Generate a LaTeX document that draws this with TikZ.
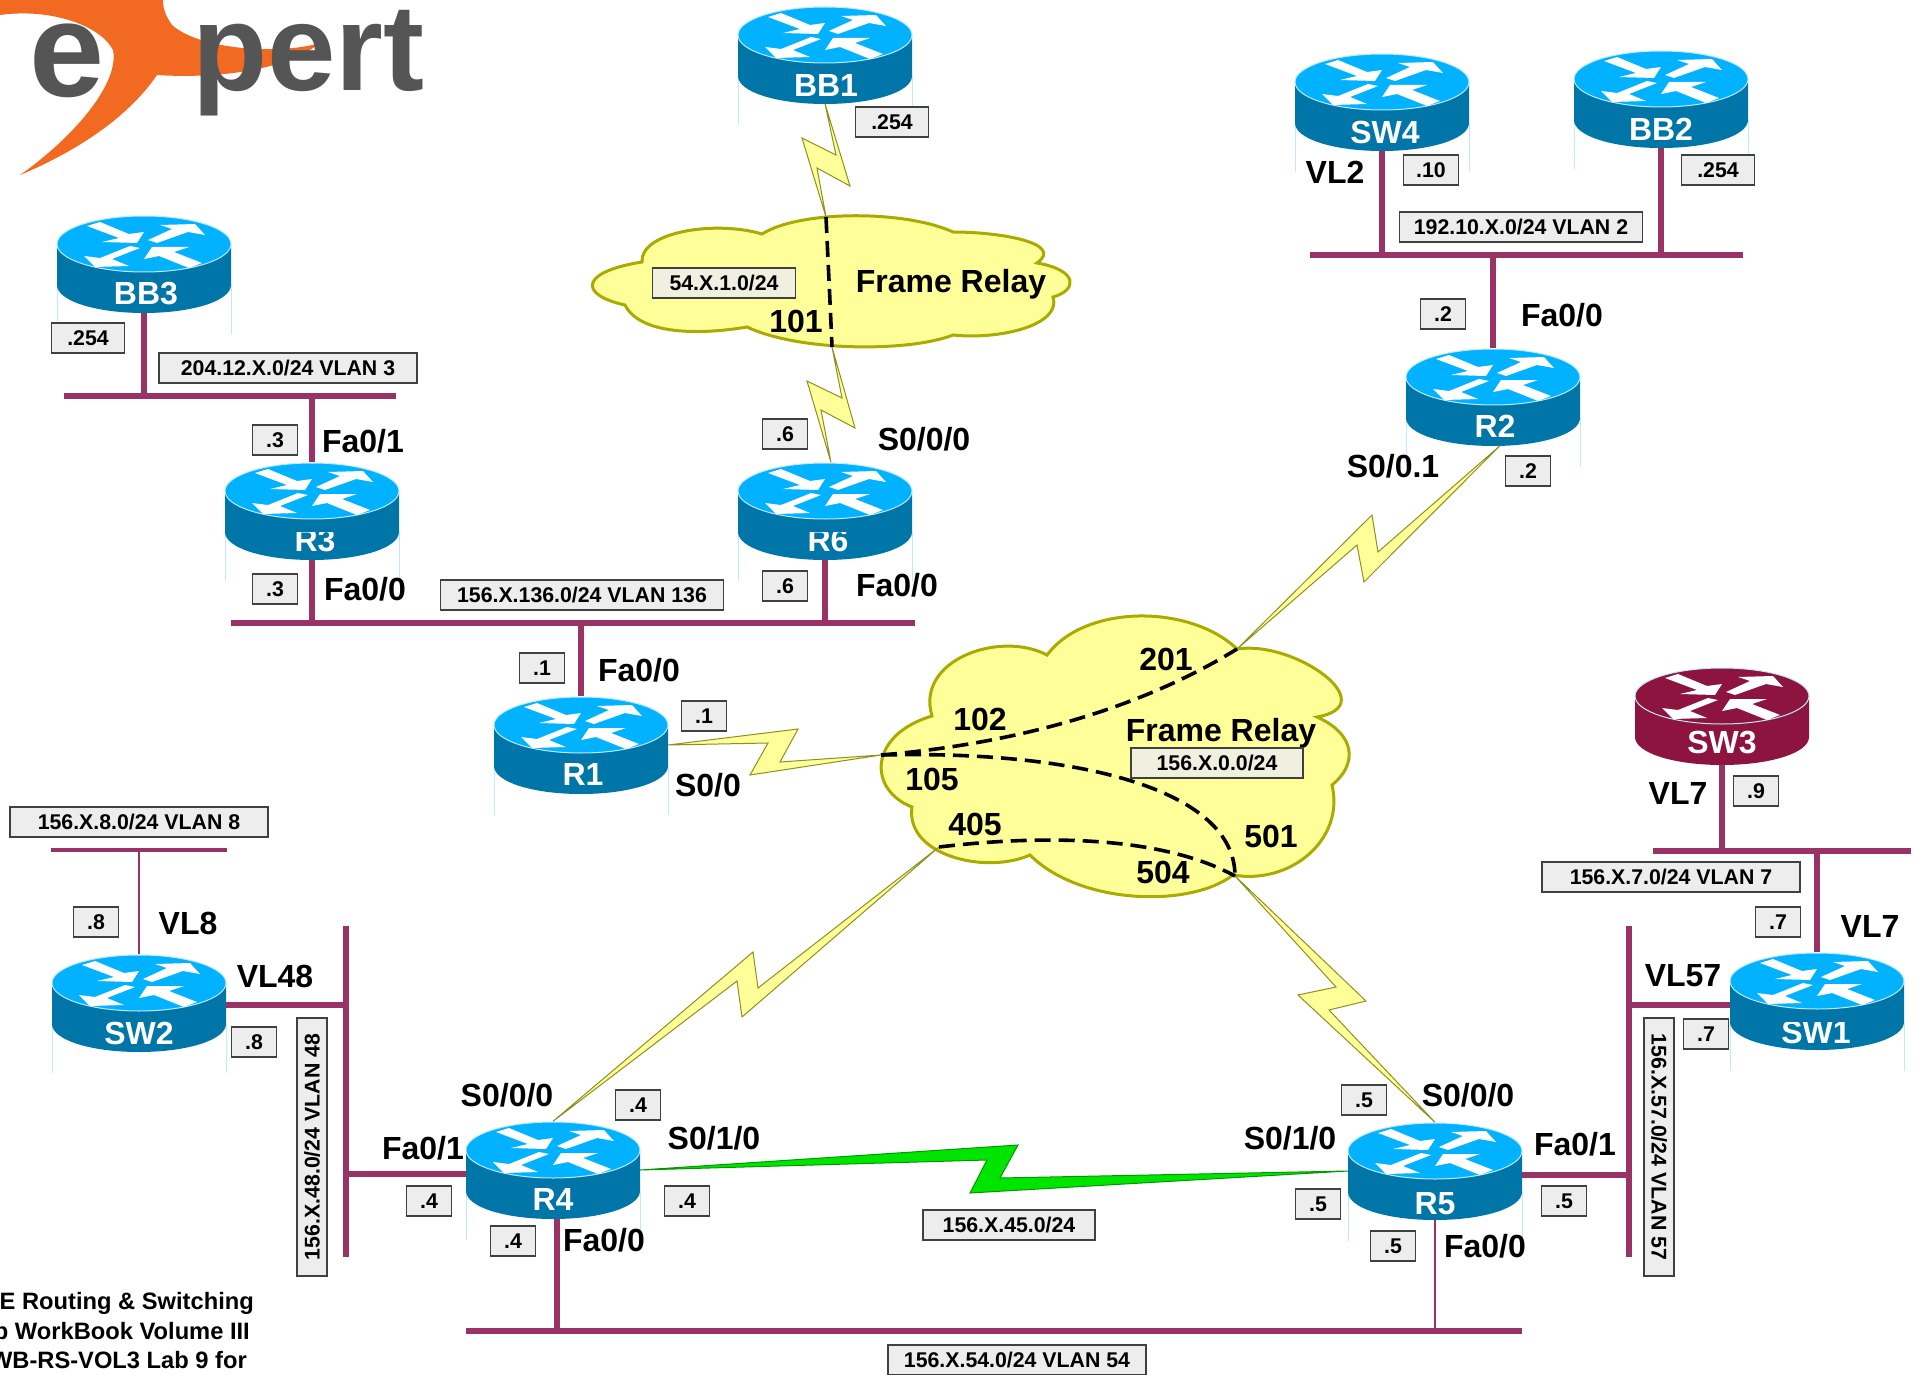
\documentclass[tikz,border=0pt]{standalone}
\usepackage{fontspec}
\setmainfont{Liberation Sans}
\definecolor{topblue}{HTML}{00B2FF}
\definecolor{sideblue}{HTML}{0076A8}
\definecolor{legblue}{HTML}{BFE9FF}
\definecolor{topwine}{HTML}{8E1440}
\definecolor{lanwine}{HTML}{993366}
\definecolor{cloudfill}{HTML}{FFFF99}
\definecolor{cloudline}{HTML}{AAAA00}
\definecolor{boltline}{HTML}{8F8F20}
\definecolor{logoorange}{HTML}{F26A21}
\definecolor{logogrey}{HTML}{555555}

% name, x, y, top colour, side colour, colour of the thin legs
\newcommand{\router}[6]{
  \begin{scope}[shift={(#2,#3)}]
    \draw[#6, line width=1pt] (-87,21) -- (-87,70) (87,21) -- (87,70);
    \fill[#5] (-87,-20) -- (-87,21) .. controls (-87,37) and (-48,49) .. (0,49)
      .. controls (48,49) and (87,37) .. (87,21) -- (87,-20) -- cycle;
    \draw[legblue, line width=1pt, fill=#4] (0,-20) ellipse [x radius=87, y radius=28];
    \fill[white] (-57,-38) -- (-44,-42) -- (-15,-30) -- (0,-32) -- (-7,-21) -- (-42,-22) -- (-25,-26) -- cycle;
    \fill[white] (4,-24) -- (28,-35) -- (16,-39) -- (51,-40) -- (61,-29) -- (44,-32) -- (13,-21) -- cycle;
    \fill[white] (-4,-16) -- (-32,-5) -- (-15,2) -- (-49,3) -- (-60,-8) -- (-44,-6) -- (-14,-18) -- cycle;
    \fill[white] (0,-5) -- (8,-17) -- (45,-17) -- (30,-12) -- (58,-1) -- (45,4) -- (15,-8) -- cycle;
  \end{scope}
  \node[routerbox] (#1) at (#2,#3) {};
}
% the label is cut by the top face on some of the routers
\newcommand{\routercut}[1]{
  \fill[sideblue] ([xshift=-36pt,yshift=-9pt]#1.center) rectangle ([xshift=36pt,yshift=-21pt]#1.center);
}

\begin{document}
\begin{tikzpicture}[x=1pt,y=-1pt,
    routerbox/.style={minimum width=174pt, minimum height=97pt, inner sep=0pt},
    routertext/.style={font=\fontsize{32}{32}\selectfont\bfseries, text=white, inner sep=0pt, text height=23pt, text depth=0pt},
    lan/.style={lanwine, line width=6.5pt},
    thinlan/.style={lanwine, line width=1.2pt},
    cloudy/.style={draw=cloudline, fill=cloudfill, line width=3pt},
    bolt/.style={draw=boltline, fill=cloudfill, line width=1pt, line join=miter},
    greenbolt/.style={draw=black!25!green!80!black, fill=green!90!black, line width=1pt},
    pvc/.style={line width=3.6pt, dash pattern=on 16pt off 8pt},
    portlabel/.style={font=\fontsize{32}{32}\selectfont\bfseries, inner sep=0pt, text height=23pt, text depth=0pt},
    netbox/.style={draw=black!75, line width=1.5pt, fill=black!7, inner sep=0pt,
      minimum width=#1, minimum height=30pt, text height=15pt, text depth=0pt,
      font=\fontsize{21.3}{21.3}\selectfont\bfseries},
    netbox/.default=45pt,
    creambox/.style={netbox=#1, fill=cloudfill!70!black!20!white},
  ]
  \useasboundingbox (0,0) rectangle (1923,1375);

  % logo
  \fill[logoorange] (0,15) .. controls (50,8) and (100,25) .. (113,50) .. controls (120,85) and (70,140) .. (20,175)
    .. controls (80,150) and (130,115) .. (157,75) .. controls (200,78) and (280,75) .. (320,43)
    .. controls (280,55) and (200,50) .. (172,25) .. controls (165,15) and (163,8) .. (163,0) -- (0,0) -- cycle;
  \node[anchor=base west, inner sep=0pt, text=logogrey, font=\fontsize{135}{135}\selectfont\bfseries] (logoe) at (29,97) {e};
  \node[anchor=base west, inner sep=0pt, text=logogrey, font=\fontsize{123}{123}\selectfont\bfseries] (logopert) at (192,91) {pert};

  % clouds
  \draw[cloudy] (762,234) .. controls (800,210) and (905,210) .. (953,232)
    .. controls (1000,232) and (1065,243) .. (1037,263)
    .. controls (1078,270) and (1078,290) .. (1053,297)
    .. controls (1062,325) and (1000,340) .. (953,335)
    .. controls (910,352) and (800,352) .. (747,327)
    .. controls (700,335) and (640,335) .. (625,305)
    .. controls (579,295) and (579,272) .. (642,262)
    .. controls (640,232) and (715,220) .. cycle;
  \draw[cloudy] (1047,655) .. controls (1085,604) and (1190,604) .. (1237,649)
    .. controls (1295,640) and (1385,705) .. (1317,717)
    .. controls (1357,735) and (1357,765) .. (1332,785)
    .. controls (1345,840) and (1290,885) .. (1233,875)
    .. controls (1190,908) and (1080,905) .. (1030,855)
    .. controls (985,875) and (905,855) .. (912,807)
    .. controls (868,790) and (868,735) .. (932,716)
    .. controls (915,660) and (1000,630) .. cycle;

  \coordinate (FRatop) at (826,217);
  \coordinate (FRabot) at (832,347);
  \coordinate (FRbleft) at (881,755);
  \coordinate (FRbup) at (1237,649);
  \coordinate (FRblow) at (939,847);
  \coordinate (FRbdown) at (1235,876);

  % routers
  \router{BB1}{825}{55}{topblue}{sideblue}{legblue}
  \router{SW4}{1382}{102}{topblue}{sideblue}{legblue}
  \router{BB2}{1661}{99}{topblue}{sideblue}{legblue}
  \router{BB3}{144}{264}{topblue}{sideblue}{legblue}
  \router{R2}{1493}{397}{topblue}{sideblue}{legblue}
  \router{R3}{312}{511}{topblue}{sideblue}{legblue}
  \router{R6}{825}{511}{topblue}{sideblue}{legblue}
  \router{R1}{581}{745}{topblue}{sideblue}{legblue}
  \router{SW3}{1722}{716}{topwine}{topwine}{white}
  \router{SW1}{1817}{1001}{topblue}{sideblue}{legblue}
  \router{SW2}{139}{1003}{topblue}{sideblue}{legblue}
  \router{R4}{553}{1170}{topblue}{sideblue}{legblue}
  \router{R5}{1435}{1171}{topblue}{sideblue}{legblue}

  \node[routertext] (BB1text) at (826,85) {BB1};
  \node[routertext] (SW4text) at (1385,132) {SW4};
  \node[routertext] (BB2text) at (1661,129) {BB2};
  \node[routertext] (BB3text) at (146,293) {BB3};
  \node[routertext] (R2text) at (1495,426) {R2};
  \node[routertext] (R3text) at (315,540) {R3};
  \node[routertext] (R6text) at (828,540) {R6};
  \node[routertext] (R1text) at (583,774) {R1};
  \node[routertext] (SW3text) at (1722,742) {SW3};
  \node[routertext] (SW1text) at (1816,1032) {SW1};
  \node[routertext] (SW2text) at (139,1033) {SW2};
  \node[routertext] (R4text) at (553,1199) {R4};
  \node[routertext] (R5text) at (1435,1203) {R5};
  \routercut{R3}
  \routercut{R6}
  \routercut{SW1}

  % lan segments
  \coordinate (V3a) at (64,396);   \coordinate (V3b) at (396,396);
  \coordinate (V136a) at (231,623); \coordinate (V136b) at (915,623);
  \coordinate (V2a) at (1310,255); \coordinate (V2b) at (1743,255);
  \coordinate (V8a) at (51,850);   \coordinate (V8b) at (227,850);
  \coordinate (V48a) at (346,926); \coordinate (V48b) at (346,1257);
  \coordinate (V54a) at (466,1331); \coordinate (V54b) at (1522,1331);
  \coordinate (V57a) at (1629,926); \coordinate (V57b) at (1629,1257);
  \coordinate (V7a) at (1653,851); \coordinate (V7b) at (1911,851);
  \coordinate (SW2tap) at (346,1005);
  \coordinate (R4tap) at (346,1174);
  \coordinate (R5tap) at (1629,1175);
  \coordinate (SW1tap) at (1629,1005);
  \coordinate (R4down) at (557,1219);

  \draw[lan] (V3a) -- (V3b);
  \draw[lan] (BB3.south) -- (BB3.south |- V3a);
  \draw[lan] (R3.north) -- (R3.north |- V3a);
  \draw[lan] (V136a) -- (V136b);
  \draw[lan] (R3.south) -- (R3.south |- V136a);
  \draw[lan] (R6.south) -- (R6.south |- V136a);
  \draw[lan] (R1.north) -- (R1.north |- V136a);
  \draw[lan] (V2a) -- (V2b);
  \draw[lan] (SW4.south) -- (SW4.south |- V2a);
  \draw[lan] (BB2.south) -- (BB2.south |- V2a);
  \draw[lan] (R2.north) -- (R2.north |- V2a);
  \draw[lan, line width=4pt] (V8a) -- (V8b);
  \draw[thinlan] (SW2.north) -- (SW2.north |- V8a);
  \draw[lan] (V48a) -- (V48b);
  \draw[lan] (SW2.east |- SW2tap) -- (SW2tap);
  \draw[lan] (R4.west |- R4tap) -- (R4tap);
  \draw[lan] (V54a) -- (V54b);
  \draw[lan] (R4down) -- (R4down |- V54a);
  \draw[thinlan] (R5.south) -- (R5.south |- V54a);
  \draw[lan] (V57a) -- (V57b);
  \draw[lan] (R5.east |- R5tap) -- (R5tap);
  \draw[lan] (SW1.west |- SW1tap) -- (SW1tap);
  \draw[lan] (V7a) -- (V7b);
  \draw[lan] (SW3.south) -- (SW3.south |- V7a);
  \draw[lan] (SW1.north) -- (SW1.north |- V7a);

  % serial links
  \draw[bolt] (BB1.south) -- (850,186) -- (817,168) -- (FRatop) -- (802,138) -- (836,155) -- cycle;
  \draw[bolt] (FRabot) -- (842,398) -- (807,381) -- ([xshift=6pt]R6.north) -- (821,410) -- (855,428) -- cycle;
  \draw[bolt] ([xshift=7pt]R2.south) -- (1378,552) -- (1372,515) -- (FRbup) -- (1357,545) -- (1364,582) -- cycle;
  \draw[bolt] (R1.east) -- (798,729) -- (780,762) -- (FRbleft) -- (750,775) -- (768,743) -- cycle;
  \draw[bolt] (R4.north) -- (737,981) -- (742,1017) -- (FRblow) -- (758,988) -- (753,952) -- cycle;
  \draw[bolt] (FRbdown) -- (1336,987) -- (1298,995) -- (R5.north) -- (1329,1010) -- (1366,1001) -- cycle;
  \draw[greenbolt] (R4.east) -- (1018,1145) -- (1000,1178) -- (R5.west) -- (970,1193) -- (987,1160) -- cycle;

  % pvcs
  \draw[pvc] (FRatop) .. controls (828,260) and (830,300) .. (FRabot);
  \draw[pvc] (FRbleft) .. controls (1000,745) and (1130,715) .. (FRbup);
  \draw[pvc] (FRbleft) .. controls (1080,750) and (1235,790) .. (FRbdown);
  \draw[pvc] (FRblow) .. controls (1040,835) and (1160,835) .. (FRbdown);

  \node[portlabel] (fr1) at (951,281) {Frame Relay};
  \node[portlabel] (fr2) at (1221,730) {Frame Relay};
  \node[portlabel] (d101) at (796,321) {101};
  \node[portlabel] (d201) at (1166,659) {201};
  \node[portlabel] (d102) at (980,719) {102};
  \node[portlabel] (d105) at (932,779) {105};
  \node[portlabel] (d405) at (975,824) {405};
  \node[portlabel] (d501) at (1271,836) {501};
  \node[portlabel] (d504) at (1163,872) {504};

  \node[portlabel] (r3a) at (363,441) {Fa0/1};
  \node[portlabel] (r3b) at (365,589) {Fa0/0};
  \node[portlabel] (r6a) at (897,585) {Fa0/0};
  \node[portlabel] (r6b) at (924,439) {S0/0/0};
  \node[portlabel] (r2a) at (1562,315) {Fa0/0};
  \node[portlabel] (r2b) at (1393,466) {S0/0.1};
  \node[portlabel] (sw4a) at (1335,172) {VL2};
  \node[portlabel] (r1a) at (639,670) {Fa0/0};
  \node[portlabel] (r1b) at (708,785) {S0/0};
  \node[portlabel] (sw3a) at (1678,793) {VL7};
  \node[portlabel] (sw1a) at (1870,926) {VL7};
  \node[portlabel] (sw1b) at (1683,975) {VL57};
  \node[portlabel] (sw2a) at (188,923) {VL8};
  \node[portlabel] (sw2b) at (275,976) {VL48};
  \node[portlabel] (r4a) at (507,1095) {S0/0/0};
  \node[portlabel] (r4b) at (714,1138) {S0/1/0};
  \node[portlabel] (r4c) at (423,1148) {Fa0/1};
  \node[portlabel] (r4d) at (604,1240) {Fa0/0};
  \node[portlabel] (r5a) at (1290,1138) {S0/1/0};
  \node[portlabel] (r5b) at (1468,1095) {S0/0/0};
  \node[portlabel] (r5c) at (1575,1144) {Fa0/1};
  \node[portlabel] (r5d) at (1485,1246) {Fa0/0};

  % addresses
  \node[netbox=73pt] (aBB1) at (892,122) {.254};
  \node[netbox=73pt] (aBB2) at (1718,170) {.254};
  \node[netbox=73pt] (aBB3) at (88,338) {.254};
  \node[netbox=55pt] (aSW4) at (1431,170) {.10};
  \node[netbox] (aR2a) at (1443,314) {.2};
  \node[netbox] (aR2b) at (1528,471) {.2};
  \node[netbox] (aR3a) at (275,440) {.3};
  \node[netbox] (aR3b) at (275,589) {.3};
  \node[netbox] (aR6a) at (785,434) {.6};
  \node[netbox] (aR6b) at (785,586) {.6};
  \node[netbox] (aR1a) at (542,668) {.1};
  \node[netbox] (aR1b) at (704,716) {.1};
  \node[netbox] (aSW3) at (1756,791) {.9};
  \node[netbox] (aSW1a) at (1778,922) {.7};
  \node[netbox] (aSW1b) at (1706,1034) {.7};
  \node[netbox] (aSW2a) at (96,922) {.8};
  \node[netbox] (aSW2b) at (254,1042) {.8};
  \node[netbox] (aR4a) at (638,1105) {.4};
  \node[netbox] (aR4b) at (429,1201) {.4};
  \node[netbox] (aR4c) at (687,1201) {.4};
  \node[netbox] (aR4d) at (513,1241) {.4};
  \node[netbox] (aR5a) at (1364,1100) {.5};
  \node[netbox] (aR5b) at (1318,1204) {.5};
  \node[netbox] (aR5c) at (1564,1201) {.5};
  \node[netbox] (aR5d) at (1393,1246) {.5};

  % networks
  \node[netbox=243pt] (n2) at (1521,227) {192.10.X.0/24 VLAN 2};
  \node[netbox=258pt] (n3) at (288,368) {204.12.X.0/24 VLAN 3};
  \node[netbox=283pt] (n136) at (582,595) {156.X.136.0/24 VLAN 136};
  \node[creambox=143pt] (nfr1) at (724,283) {54.X.1.0/24};
  \node[creambox=172pt] (nfr2) at (1217,763) {156.X.0.0/24};
  \node[netbox=258pt] (n7) at (1671,877) {156.X.7.0/24 VLAN 7};
  \node[netbox=258pt] (n8) at (139,822) {156.X.8.0/24 VLAN 8};
  \node[netbox=258pt, rotate=90] (n48) at (312,1147) {156.X.48.0/24 VLAN 48};
  \node[netbox=258pt, rotate=-90] (n57) at (1659,1147) {156.X.57.0/24 VLAN 57};
  \node[netbox=172pt] (n45) at (1009,1225) {156.X.45.0/24};
  \node[netbox=258pt] (n54) at (1017,1360) {156.X.54.0/24 VLAN 54};

  % title, cut by the page edge
  \node[anchor=east, inner sep=0pt, font=\fontsize{23.7}{23.7}\selectfont\bfseries] (title1) at (254,1303) {E Routing \& Switching};
  \node[anchor=east, inner sep=0pt, font=\fontsize{23.7}{23.7}\selectfont\bfseries] (title2) at (250,1331) {b WorkBook Volume III};
  \node[anchor=east, inner sep=0pt, font=\fontsize{23.7}{23.7}\selectfont\bfseries] (title3) at (247,1360) {WB-RS-VOL3 Lab 9 for};
\end{tikzpicture}
\end{document}
